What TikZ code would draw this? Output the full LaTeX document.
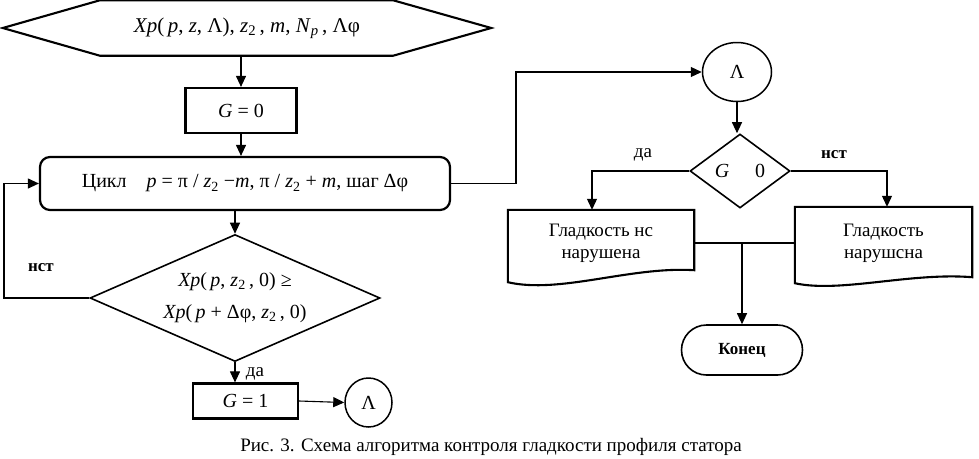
\documentclass[tikz,border=0pt]{standalone}
\usepackage{fontspec}
\setmainfont{Liberation Serif}
\usetikzlibrary{arrows.meta,shapes.geometric,calc}
\newcommand\vi[1]{\textit{#1}}
\newcommand\sbs[1]{\textsubscript{#1}}
\newcommand\fsz[1]{\fontsize{#1}{#1}\selectfont}
\begin{document}
\begin{tikzpicture}[x=1pt,y=-1pt,
  every node/.style={font=\fsz{20}, inner sep=0pt},
  thickline/.style={line width=2.1pt},
  box/.style={draw, line width=2.2pt},
  dia/.style={draw, diamond, line width=1.6pt, inner sep=0pt},
  circ/.style={draw, ellipse, line width=1.5pt},
  conn/.style={line width=1.1pt},
  arr/.style={conn, -{Triangle[length=11pt,width=10pt]}},
  lbl/.style={font=\fsz{19}},
  nolbl/.style={font=\fsz{17}\bfseries}]
\useasboundingbox (0,0) rectangle (979,458);

% hexagon
\node[minimum width=488, minimum height=55, font=\fsz{21}] (hex) at (247,28)
  {\vi{Xp}(\,\vi{p}, \vi{z}, Λ), \vi{z}\sbs{2}\,, \vi{m}, \vi{N}\sbs{\vi{p}}\,, Λφ};
\draw[thickline] (hex.west) -- ($(hex.north west)+(97,0)$) -- ($(hex.north east)+(-98,0)$)
  -- (hex.east) -- ($(hex.south east)+(-98,0)$) -- ($(hex.south west)+(97,0)$) -- cycle;

\node[box, minimum width=111, minimum height=45] (g0) at (241,110.5) {\vi{G} = 0};
\node[box, rounded corners=10pt, minimum width=410, minimum height=53] (cyc) at (245,183.5)
  {Цикл\quad\vi{p} = π / \vi{z}\sbs{2} −\vi{m}, π / \vi{z}\sbs{2} + \vi{m}, шаг Δφ};
\node[dia, minimum width=290, minimum height=127, aspect=2.28, align=center] (d1) at (235,298)
  {\vi{Xp}(\,\vi{p}, \vi{z}\sbs{2}\,, 0) ≥\\[12pt]\vi{Xp}(\,\vi{p} + Δφ, \vi{z}\sbs{2}\,, 0)};
\node[box, minimum width=105, minimum height=35] (g1) at (245.5,401) {\vi{G} = 1};
\node[circ, minimum width=47, minimum height=49] (l1) at (368.5,402.5) {Λ};

\node[circ, minimum width=69, minimum height=59] (l2) at (737,72) {Λ};
\node[dia, minimum width=100, minimum height=74, aspect=1.35] (d2) at (740,171) {\vi{G}\hspace{1.3em}0};

\node[minimum width=186, minimum height=66, align=center, font=\fsz{19}] (doc1) at (601,243)
  {Гладкость нс\\[3pt]нарушена};
\draw[thickline] (doc1.north west) -- (doc1.north east) -- ($(doc1.south east)+(0,-6)$)
  .. controls +(-64,-4) and +(52,12) .. ($(doc1.south west)+(0,6)$) -- cycle;
\node[minimum width=177, minimum height=72, align=center, font=\fsz{19}] (doc2) at (883.5,243)
  {Гладкость\\[3pt]нарушсна};
\draw[thickline] (doc2.north west) -- (doc2.north east) -- ($(doc2.south east)+(0,-2)$)
  .. controls +(-62,-5) and +(45,10) .. ($(doc2.south west)+(0,4)$) -- cycle;

\node[draw, line width=1.6pt, rounded corners=25pt, minimum width=121, minimum height=50,
  font=\fsz{17}\bfseries] (fin) at (742,350) {Конец};

\node[font=\fsz{19}] (cap) at (491,447) {Рис. 3. Схема алгоритма контроля гладкости профиля статора};

% connectors
\draw[arr] (hex.south -| g0.north) -- (g0.north);
\draw[arr] (g0.south) -- (g0.south |- cyc.north);
\draw[arr] (d1.north |- cyc.south) -- (d1.north);
\coordinate (lp) at (4,298);
\draw[arr] (d1.west) -- (lp) -- (lp |- cyc.west) -- (cyc.west);
\node[nolbl] (no1) at (41,268) {нст};
\draw[arr] (d1.south) -- (d1.south |- g1.north);
\node[lbl] (yes1) at (255,374) {да};
\draw[arr] (g1.east) -- (l1.west);
\coordinate (rp) at (516,183.5);
\draw[arr] (cyc.east) -- (rp) -- (rp |- l2.west) -- (l2.west);
\draw[arr] (l2.south) -- (l2.south |- d2.north);
\coordinate (ya) at (592,171);
\draw[arr] (d2.west) -- (ya) -- (ya |- doc1.north);
\node[lbl] (yes2) at (643,155) {да};
\coordinate (na) at (887,171);
\draw[arr] (d2.east) -- (na) -- (na |- doc2.north);
\node[nolbl] (no2) at (834,155) {нст};
\draw[conn] (doc1.east) -- (doc2.west);
\draw[arr] (doc1.east -| fin.north) -- (fin.north);
\end{tikzpicture}
\end{document}
